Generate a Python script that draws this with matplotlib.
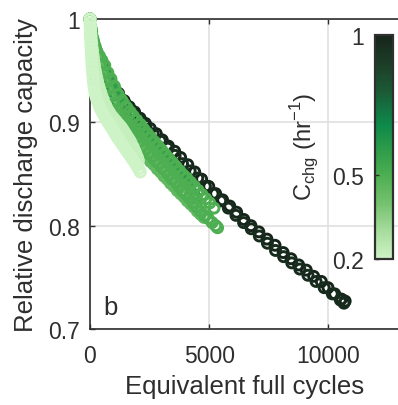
import matplotlib
matplotlib.use("Agg")
import matplotlib.pyplot as plt
import numpy as np
from matplotlib.colors import LinearSegmentedColormap, Normalize
from matplotlib.cm import ScalarMappable

plt.rcParams['font.family'] = ['Liberation Sans', 'DejaVu Sans']

# ---------------- data ----------------
# dark cells, C_chg ~ 1
d1_cycles = [0, 50, 120, 200, 300, 420, 590, 800, 1000, 1200, 1430, 1650, 1870, 2100, 2320,
             2530, 2780, 3030, 3290, 3550, 3800, 4100, 4390, 4680, 4980, 5270, 5560, 5860,
             6150, 6450, 6750, 7080, 7420, 7760, 8100, 8430, 8750, 9070, 9380, 9700, 9980,
             10260, 10540, 10700]
d1_cap = [1.000, 0.986, 0.975, 0.967, 0.960, 0.955, 0.949, 0.941, 0.934, 0.928, 0.921, 0.915,
          0.910, 0.904, 0.899, 0.894, 0.889, 0.883, 0.877, 0.872, 0.866, 0.859, 0.852, 0.845,
          0.838, 0.831, 0.825, 0.819, 0.813, 0.806, 0.800, 0.794, 0.787, 0.781, 0.774, 0.768,
          0.762, 0.757, 0.751, 0.746, 0.740, 0.734, 0.729, 0.727]

d2_cycles = [0, 80, 180, 320, 500, 700, 950, 1200, 1480, 1760, 2050, 2350, 2650, 2950, 3260,
             3570, 3880, 4200, 4520, 4840, 5160, 5480, 5800, 6120, 6440, 6760, 7100, 7440,
             7780, 8120, 8460, 8800, 9140, 9480, 9820, 10160, 10500, 10650]
d2_cap = [1.000, 0.982, 0.969, 0.958, 0.950, 0.943, 0.934, 0.926, 0.918, 0.911, 0.904, 0.897,
          0.889, 0.882, 0.875, 0.868, 0.860, 0.853, 0.846, 0.838, 0.831, 0.824, 0.817, 0.810,
          0.803, 0.797, 0.790, 0.783, 0.776, 0.770, 0.764, 0.758, 0.752, 0.746, 0.740, 0.734,
          0.728, 0.725]

# medium cells, C_chg ~ 0.45 - 0.6
m5_cycles = [0, 30, 70, 120, 180, 250, 330, 420, 510, 610, 720, 830, 950, 1070, 1190, 1310,
             1430, 1560, 1690, 1820, 1950, 2090, 2230, 2370, 2510, 2650, 2800, 2950, 3100,
             3250, 3400, 3550, 3700, 3850, 4000, 4100]
m5_cap = [1.000, 0.992, 0.984, 0.977, 0.971, 0.966, 0.962, 0.958, 0.955, 0.951, 0.946, 0.941,
          0.936, 0.931, 0.926, 0.922, 0.918, 0.914, 0.910, 0.906, 0.902, 0.898, 0.894, 0.890,
          0.886, 0.882, 0.878, 0.874, 0.870, 0.866, 0.862, 0.858, 0.854, 0.850, 0.846, 0.843]

m3_cycles = [0, 70, 150, 240, 340, 450, 570, 700, 840, 990, 1150, 1310, 1470, 1630, 1790,
             1950, 2110, 2270, 2430, 2590, 2750, 2910, 3070, 3230, 3390, 3550, 3710, 3870,
             4030, 4190, 4350, 4450]
m3_cap = [1.000, 0.987, 0.978, 0.971, 0.965, 0.959, 0.952, 0.945, 0.937, 0.929, 0.921, 0.914,
          0.908, 0.903, 0.898, 0.894, 0.889, 0.885, 0.881, 0.877, 0.873, 0.869, 0.865, 0.861,
          0.857, 0.852, 0.848, 0.844, 0.840, 0.835, 0.830, 0.827]

m1_cycles = [0, 60, 130, 210, 300, 400, 500, 620, 750, 880, 1020, 1180, 1340, 1500, 1650,
             1800, 1950, 2110, 2260, 2410, 2560, 2710, 2860, 3010, 3160, 3310, 3460, 3610,
             3760, 3910, 4060, 4220, 4380, 4540, 4700, 4860, 5020, 5200]
m1_cap = [1.000, 0.988, 0.980, 0.974, 0.968, 0.964, 0.960, 0.955, 0.948, 0.942, 0.935, 0.927,
          0.921, 0.915, 0.910, 0.906, 0.902, 0.898, 0.893, 0.889, 0.885, 0.881, 0.877, 0.873,
          0.869, 0.865, 0.861, 0.857, 0.853, 0.849, 0.846, 0.842, 0.838, 0.834, 0.830, 0.826,
          0.822, 0.817]

m4_cycles = [0, 40, 90, 150, 220, 300, 390, 480, 580, 690, 800, 920, 1040, 1160, 1290, 1420,
             1560, 1700, 1840, 1980, 2120, 2260, 2400, 2540, 2680, 2820, 2960, 3100, 3240,
             3380, 3520, 3660, 3800, 3940, 4080, 4220, 4360, 4500, 4640, 4780]
m4_cap = [1.000, 0.990, 0.982, 0.975, 0.968, 0.961, 0.953, 0.946, 0.939, 0.932, 0.925, 0.918,
          0.912, 0.907, 0.901, 0.896, 0.891, 0.886, 0.882, 0.878, 0.874, 0.870, 0.866, 0.862,
          0.859, 0.855, 0.852, 0.848, 0.845, 0.841, 0.838, 0.834, 0.831, 0.828, 0.824, 0.821,
          0.818, 0.814, 0.811, 0.808]

m2_cycles = [0, 50, 110, 180, 250, 340, 440, 550, 650, 760, 880, 1000, 1120, 1240, 1360,
             1480, 1620, 1760, 1900, 2040, 2180, 2320, 2460, 2600, 2740, 2880, 3020, 3160,
             3300, 3440, 3580, 3720, 3860, 4000, 4160, 4320, 4480, 4640, 4800, 4960, 5120,
             5270, 5350]
m2_cap = [1.000, 0.990, 0.982, 0.975, 0.970, 0.963, 0.955, 0.947, 0.939, 0.932, 0.925, 0.918,
          0.912, 0.907, 0.902, 0.898, 0.893, 0.889, 0.885, 0.881, 0.877, 0.874, 0.870, 0.867,
          0.863, 0.860, 0.856, 0.853, 0.849, 0.845, 0.842, 0.838, 0.834, 0.831, 0.827, 0.822,
          0.818, 0.814, 0.810, 0.807, 0.803, 0.800, 0.798]

# light cells, C_chg ~ 0.2
l2_cycles = [0, 8, 15, 25, 35, 47, 60, 75, 90, 107, 125, 145, 165, 187, 210, 235, 260, 290,
             320, 355, 390, 430, 470, 515, 560, 610, 660, 715, 770, 825, 880, 935, 990, 1045,
             1100, 1155, 1210, 1265, 1320, 1375, 1430, 1485, 1540, 1595, 1650, 1705, 1760,
             1810, 1860, 1905, 1950, 1990, 2030]
l2_cap = [1.000, 0.996, 0.993, 0.990, 0.986, 0.983, 0.979, 0.976, 0.972, 0.969, 0.965, 0.962,
          0.958, 0.955, 0.951, 0.948, 0.945, 0.942, 0.939, 0.936, 0.933, 0.930, 0.927, 0.924,
          0.921, 0.918, 0.916, 0.913, 0.911, 0.909, 0.907, 0.905, 0.904, 0.902, 0.901, 0.899,
          0.898, 0.896, 0.895, 0.893, 0.891, 0.889, 0.887, 0.885, 0.883, 0.881, 0.878, 0.876,
          0.873, 0.871, 0.868, 0.866, 0.863]

l1_cycles = [0, 5, 10, 16, 22, 29, 36, 44, 52, 61, 71, 82, 94, 107, 122, 140, 160, 185, 215,
             250, 290, 340, 400, 460, 530, 600, 680, 760, 840, 920, 1000, 1080, 1160, 1250,
             1340, 1430, 1520, 1610, 1700, 1790, 1880, 1960, 2040, 2110]
l1_cap = [1.000, 0.996, 0.992, 0.988, 0.984, 0.980, 0.976, 0.972, 0.968, 0.964, 0.960, 0.956,
          0.952, 0.948, 0.944, 0.940, 0.936, 0.932, 0.928, 0.925, 0.922, 0.919, 0.915, 0.912,
          0.909, 0.906, 0.903, 0.900, 0.897, 0.894, 0.891, 0.888, 0.885, 0.882, 0.879, 0.876,
          0.873, 0.870, 0.867, 0.864, 0.861, 0.858, 0.855, 0.852]

cell_rates = [1.0, 0.97, 0.55, 0.6, 0.5, 0.45, 0.5, 0.22, 0.2]
cell_cycles = [d1_cycles, d2_cycles, m5_cycles, m3_cycles, m1_cycles, m4_cycles, m2_cycles,
               l2_cycles, l1_cycles]
cell_caps = [d1_cap, d2_cap, m5_cap, m3_cap, m1_cap, m4_cap, m2_cap, l2_cap, l1_cap]

x_ticks = [0, 5000, 10000]
y_ticks = [0.7, 0.8, 0.9, 1.0]
y_ticklabels = ['0.7', '0.8', '0.9', '1']
cbar_ticks = [0.2, 0.5, 1.0]
cbar_ticklabels = ['0.2', '0.5', '1']

# ---------------- style ----------------
cmin, cmax = 0.2, 1.0
nodes = [(0.2, '#cdf3c6'), (0.3, '#a6dc9c'), (0.4, '#74c16e'), (0.5, '#4caf50'),
         (0.6, '#2a9a4a'), (0.68, '#0c8a4a'), (0.8, '#1c5a36'), (0.9, '#1c3d27'),
         (1.0, '#16251b')]
cmap = LinearSegmentedColormap.from_list(
    'chg', [((v - cmin) / (cmax - cmin), c) for v, c in nodes])
norm = Normalize(vmin=cmin, vmax=cmax)

txt = '#2e2e2e'
W, H = 398, 406
fig = plt.figure(figsize=(W / 100, H / 100), dpi=100)
ax = fig.add_axes([90 / W, 1 - 330 / H, 310 / W, 310 / H])

for cyc, cap, r in zip(cell_cycles, cell_caps, cell_rates):
    ax.scatter(cyc, cap, s=52, facecolors='none', edgecolors=[cmap(norm(r))],
               linewidths=2.1, clip_on=False, zorder=3)

ax.set_xlim(0, 13000)
ax.set_ylim(0.7, 1.0)
ax.set_xticks(x_ticks)
ax.set_xticklabels([str(v) for v in x_ticks])
ax.set_yticks(y_ticks)
ax.set_yticklabels(y_ticklabels)
ax.grid(True, color='#dedede', linewidth=1.1, zorder=0)
ax.set_axisbelow(True)
for side in ['left', 'bottom', 'top']:
    ax.spines[side].set_color(txt)
    ax.spines[side].set_linewidth(1.2)
ax.spines['right'].set_visible(False)
ax.tick_params(axis='both', direction='in', length=3.5, width=1.0, colors=txt,
               labelsize=16.5, top=True)
ax.tick_params(axis='x', pad=11)
ax.tick_params(axis='y', pad=7)

ax.set_xlabel('Equivalent full cycles', fontsize=18.5, color=txt)
ax.set_ylabel('Relative discharge capacity', fontsize=18.5, color=txt)
ax.xaxis.set_label_coords(0.5, (330 - 375.5) / 310)
ax.yaxis.set_label_coords((38.5 - 90) / 308, 0.5)

ax.text(0.042, 0.048, 'b', transform=ax.transAxes, fontsize=18.5, color=txt,
        ha='left', va='baseline')

# colorbar
cax = fig.add_axes([375 / W, 1 - 260 / H, 18 / W, 224 / H])
sm = ScalarMappable(norm=norm, cmap=cmap)
cb = fig.colorbar(sm, cax=cax, ticks=cbar_ticks)
cb.ax.set_yticklabels(cbar_ticklabels)
cb.ax.yaxis.set_ticks_position('left')
cb.ax.tick_params(direction='in', length=3, width=1.0, colors=txt, labelsize=16.5, pad=8)
cb.outline.set_edgecolor('#303030')
cb.outline.set_linewidth(1.6)
fig.text(305 / W, 1 - 147 / H, r'C$_{\mathregular{chg}}$ (hr$^{\mathregular{-1}}$)',
         rotation=90, ha='center', va='center', fontsize=17, color=txt)

fig.savefig('out.png', dpi=100)
